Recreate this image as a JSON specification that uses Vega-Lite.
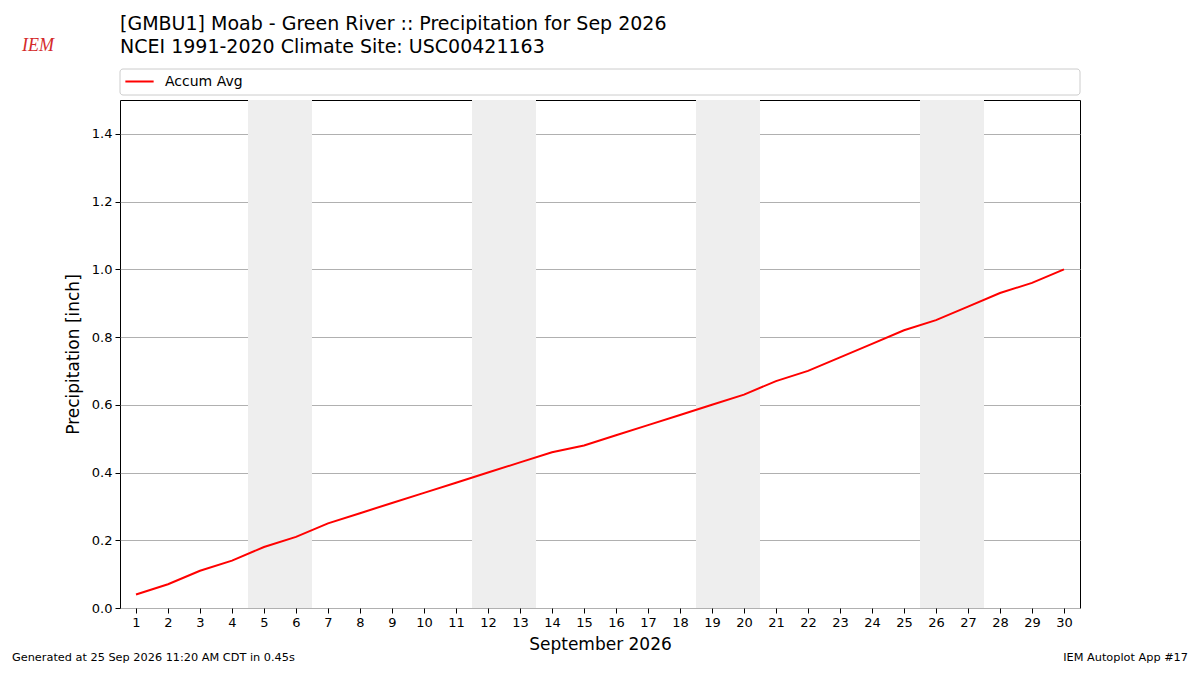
{
  "$schema": "https://vega.github.io/schema/vega-lite/v6.json",
  "width": 960,
  "height": 508,
  "autosize": "none",
  "padding": {"left": 120, "top": 100, "right": 120, "bottom": 67},
  "background": "white",
  "datasets": {
    "accum": [
      {"day": 1, "precip": 0.04, "series": "Accum Avg"},
      {"day": 2, "precip": 0.07, "series": "Accum Avg"},
      {"day": 3, "precip": 0.11, "series": "Accum Avg"},
      {"day": 4, "precip": 0.14, "series": "Accum Avg"},
      {"day": 5, "precip": 0.18, "series": "Accum Avg"},
      {"day": 6, "precip": 0.21, "series": "Accum Avg"},
      {"day": 7, "precip": 0.25, "series": "Accum Avg"},
      {"day": 8, "precip": 0.28, "series": "Accum Avg"},
      {"day": 9, "precip": 0.31, "series": "Accum Avg"},
      {"day": 10, "precip": 0.34, "series": "Accum Avg"},
      {"day": 11, "precip": 0.37, "series": "Accum Avg"},
      {"day": 12, "precip": 0.40, "series": "Accum Avg"},
      {"day": 13, "precip": 0.43, "series": "Accum Avg"},
      {"day": 14, "precip": 0.46, "series": "Accum Avg"},
      {"day": 15, "precip": 0.48, "series": "Accum Avg"},
      {"day": 16, "precip": 0.51, "series": "Accum Avg"},
      {"day": 17, "precip": 0.54, "series": "Accum Avg"},
      {"day": 18, "precip": 0.57, "series": "Accum Avg"},
      {"day": 19, "precip": 0.60, "series": "Accum Avg"},
      {"day": 20, "precip": 0.63, "series": "Accum Avg"},
      {"day": 21, "precip": 0.67, "series": "Accum Avg"},
      {"day": 22, "precip": 0.70, "series": "Accum Avg"},
      {"day": 23, "precip": 0.74, "series": "Accum Avg"},
      {"day": 24, "precip": 0.78, "series": "Accum Avg"},
      {"day": 25, "precip": 0.82, "series": "Accum Avg"},
      {"day": 26, "precip": 0.85, "series": "Accum Avg"},
      {"day": 27, "precip": 0.89, "series": "Accum Avg"},
      {"day": 28, "precip": 0.93, "series": "Accum Avg"},
      {"day": 29, "precip": 0.96, "series": "Accum Avg"},
      {"day": 30, "precip": 1.00, "series": "Accum Avg"}
    ],
    "weekends": [
      {"start": 4.5, "end": 6.5},
      {"start": 11.5, "end": 13.5},
      {"start": 18.5, "end": 20.5},
      {"start": 25.5, "end": 27.5}
    ],
    "notes": [
      {"label": "Generated at 25 Sep 2026 11:20 AM CDT in 0.45s"}
    ]
  },
  "layer": [
    {
      "data": {"name": "weekends"},
      "mark": {"type": "rect", "color": "#eeeeee"},
      "encoding": {
        "x": {
          "field": "start",
          "type": "quantitative",
          "scale": {"domain": [0.5, 30.5], "nice": false, "zero": false},
          "axis": {
            "title": "September 2026",
            "values": [1,2,3,4,5,6,7,8,9,10,11,12,13,14,15,16,17,18,19,20,21,22,23,24,25,26,27,28,29,30],
            "format": "d",
            "grid": false,
            "labelFlush": false,
            "labelOverlap": false
          }
        },
        "x2": {"field": "end"}
      }
    },
    {
      "data": {"name": "accum"},
      "mark": {"type": "line", "strokeWidth": 2},
      "encoding": {
        "x": {
          "field": "day",
          "type": "quantitative",
          "scale": {"domain": [0.5, 30.5], "nice": false, "zero": false},
          "axis": {
            "title": "September 2026",
            "values": [1,2,3,4,5,6,7,8,9,10,11,12,13,14,15,16,17,18,19,20,21,22,23,24,25,26,27,28,29,30],
            "format": "d",
            "grid": false,
            "labelFlush": false,
            "labelOverlap": false
          }
        },
        "y": {
          "field": "precip",
          "type": "quantitative",
          "scale": {"domain": [0, 1.5], "nice": false},
          "axis": {
            "title": "Precipitation [inch]",
            "values": [0, 0.2, 0.4, 0.6, 0.8, 1.0, 1.2, 1.4],
            "format": ".1f",
            "grid": true,
            "labelFlush": false
          }
        },
        "color": {
          "field": "series",
          "type": "nominal",
          "scale": {"range": ["#ff0000"]},
          "legend": {
            "orient": "none",
            "legendX": 4,
            "legendY": -34,
            "title": null,
            "symbolType": "stroke",
            "symbolStrokeWidth": 2,
            "symbolSize": 800,
            "labelFont": "DejaVu Sans",
            "labelFontSize": 14,
            "labelColor": "#000",
            "labelOffset": 10
          }
        }
      }
    },
    {
      "data": {"name": "notes"},
      "mark": {"type": "rect", "fill": null, "stroke": "#cccccc", "strokeWidth": 1, "cornerRadius": 3},
      "encoding": {
        "x": {"value": 0},
        "x2": {"value": 960},
        "y": {"value": -31},
        "y2": {"value": -5}
      }
    },
    {
      "data": {"name": "notes"},
      "mark": {"type": "text", "align": "left", "baseline": "alphabetic", "font": "DejaVu Sans", "fontSize": 19, "color": "#000", "text": "[GMBU1] Moab - Green River :: Precipitation for Sep 2026"},
      "encoding": {
        "x": {"value": 0},
        "y": {"value": -70}
      }
    },
    {
      "data": {"name": "notes"},
      "mark": {"type": "text", "align": "left", "baseline": "alphabetic", "font": "DejaVu Sans", "fontSize": 19, "color": "#000", "text": "NCEI 1991-2020 Climate Site: USC00421163"},
      "encoding": {
        "x": {"value": 0},
        "y": {"value": -47}
      }
    },
    {
      "data": {"name": "notes"},
      "mark": {"type": "text", "align": "left", "baseline": "alphabetic", "font": "DejaVu Sans", "fontSize": 11.3, "color": "#000"},
      "encoding": {
        "text": {"field": "label"},
        "x": {"value": -108},
        "y": {"value": 561}
      }
    },
    {
      "data": {"name": "notes"},
      "mark": {"type": "text", "align": "right", "baseline": "alphabetic", "font": "DejaVu Sans", "fontSize": 11.3, "color": "#000", "text": "IEM Autoplot App #17"},
      "encoding": {
        "x": {"value": 1068},
        "y": {"value": 561}
      }
    },
    {
      "data": {"name": "notes"},
      "mark": {"type": "text", "align": "left", "baseline": "alphabetic", "font": "Liberation Serif", "fontStyle": "italic", "fontSize": 18, "color": "#d42a2a", "text": "IEM"},
      "encoding": {
        "x": {"value": -98},
        "y": {"value": -49}
      }
    }
  ],
  "config": {
    "view": {"stroke": "#000", "strokeWidth": 1},
    "axis": {
      "labelFont": "DejaVu Sans",
      "labelFontSize": 13,
      "labelColor": "#000",
      "titleFont": "DejaVu Sans",
      "titleFontSize": 17,
      "titleFontWeight": "normal",
      "titleColor": "#000",
      "tickColor": "#000",
      "tickSize": 5,
      "domain": false,
      "gridColor": "#b0b0b0",
      "gridWidth": 1,
      "labelPadding": 3,
      "labelOverlap": false
    },
    "axisX": {"titlePadding": 7},
    "axisY": {"titlePadding": 9}
  }
}
